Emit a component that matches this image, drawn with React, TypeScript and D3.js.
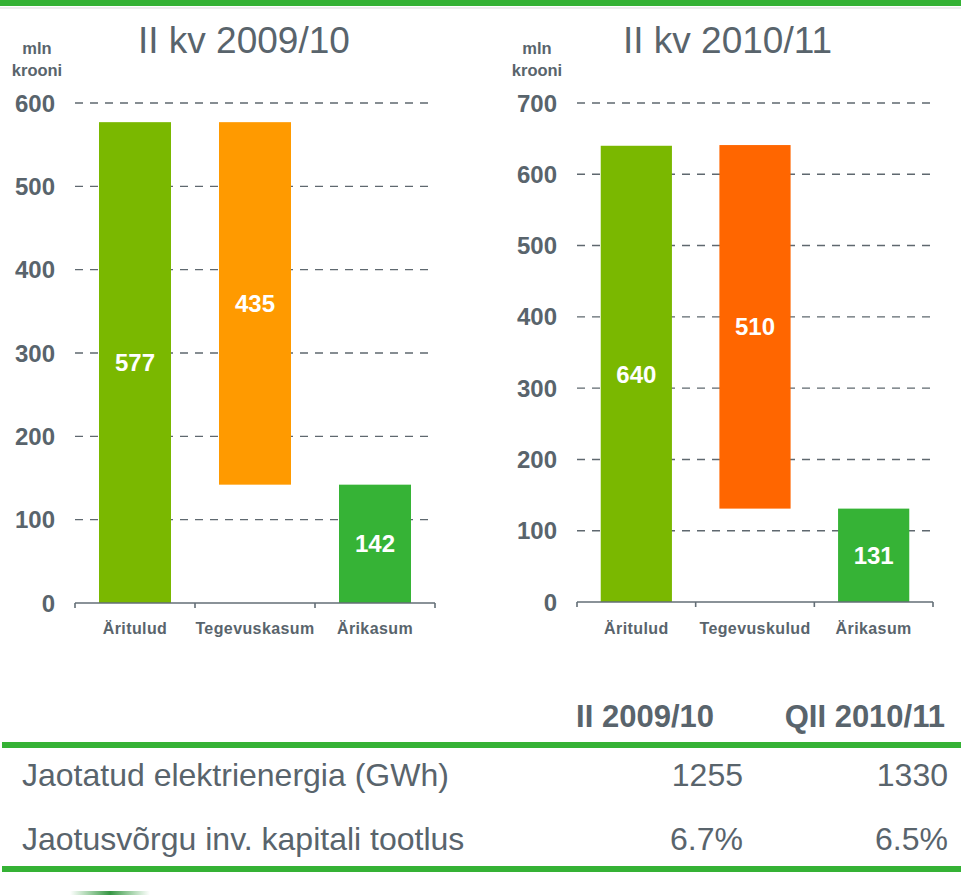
import React from "react";
import { scaleBand, scaleLinear } from "d3";

// waterfall values, mln krooni
const categories1 = ["Äritulud", "Tegevuskasum", "Ärikasum"];
const values1 = [577, 435, 142];
const ticks1 = [0, 100, 200, 300, 400, 500, 600];

const categories2 = ["Äritulud", "Tegevuskulud", "Ärikasum"];
const values2 = [640, 510, 131];
const ticks2 = [0, 100, 200, 300, 400, 500, 600, 700];

const tableHeaders = ["II 2009/10", "QII 2010/11"];
const tableRows = ["Jaotatud elektrienergia (GWh)", "Jaotusvõrgu inv. kapitali tootlus"];
const tableCol1 = ["1255", "6.7%"];
const tableCol2 = ["1330", "6.5%"];

const FONT = "'Liberation Sans', Arial, sans-serif";
const GRAY = "#59646c";
const GREEN_LINE = "#35b235";

function Waterfall({ title, titleX, unitX, categories, values, ticks, x0, x1, y0, y1, colors }) {
  const x = scaleBand().domain(categories).range([x0, x1]);
  const y = scaleLinear().domain([0, ticks[ticks.length - 1]]).range([y0, y1]);
  const bw = x.bandwidth() * 0.6;
  // first bar from zero, middle floats between result and start, last from zero
  const spans = [
    [0, values[0]],
    [values[2], values[2] + values[1]],
    [0, values[2]]
  ];
  const edges = [...categories.map(c => x(c)), x1];

  return (
    <g fontFamily={FONT}>
      <text x={titleX} y={53} fontSize={37} fill={GRAY}>{title}</text>
      <text x={unitX} y={54} fontSize={16.5} fontWeight="bold" fill={GRAY} textAnchor="middle">mln</text>
      <text x={unitX} y={76} fontSize={16.5} fontWeight="bold" fill={GRAY} textAnchor="middle">krooni</text>

      {ticks.map(t => (
        <g key={t}>
          {t > 0 && (
            <line x1={x0} x2={x1} y1={y(t)} y2={y(t)} stroke="#5f686f" strokeWidth={1.4} strokeDasharray="8 7" />
          )}
          <text x={x0 - 20} y={y(t)} dy="0.36em" textAnchor="end" fontSize={24} fontWeight="bold" fill={GRAY}>
            {t}
          </text>
        </g>
      ))}

      {categories.map((c, i) => {
        const [lo, hi] = spans[i];
        const bx = x(c) + (x.bandwidth() - bw) / 2;
        return (
          <g key={c}>
            <rect x={bx} y={y(hi)} width={bw} height={y(lo) - y(hi)} fill={colors[i]} />
            <text
              x={bx + bw / 2}
              y={(y(lo) + y(hi)) / 2}
              dy="0.36em"
              textAnchor="middle"
              fontSize={24}
              fontWeight="bold"
              fill="#fff"
            >
              {values[i]}
            </text>
            <text x={x(c) + x.bandwidth() / 2} y={634} textAnchor="middle" fontSize={16} fontWeight="bold" fill={GRAY} letterSpacing={0.4}>
              {c}
            </text>
          </g>
        );
      })}

      <line x1={x0} x2={x1} y1={y0} y2={y0} stroke="#636e76" strokeWidth={1.6} />
      {edges.map((e, i) => (
        <line key={i} x1={e} x2={e} y1={y0} y2={y0 + 5} stroke="#636e76" strokeWidth={1.6} />
      ))}
    </g>
  );
}

export default function App() {
  const width = 961,
    height = 895;

  return (
    <svg width={width} height={height} style={{ position: "absolute", left: 0, top: 0, background: "#fff" }}>
      <defs>
        <linearGradient id="logo" x1="0" x2="1" y1="0" y2="0">
          <stop offset="0" stopColor="#2f9e3a" stopOpacity={0} />
          <stop offset="0.5" stopColor="#1f8a2e" stopOpacity={0.9} />
          <stop offset="1" stopColor="#2f9e3a" stopOpacity={0} />
        </linearGradient>
      </defs>
      <rect x={0} y={0} width={width} height={6} fill={GREEN_LINE} />
      <rect x={0} y={7.5} width={width} height={1} fill="#dcdcdc" />

      <Waterfall
        title="II kv 2009/10"
        titleX={138}
        unitX={37}
        categories={categories1}
        values={values1}
        ticks={ticks1}
        x0={75}
        x1={435}
        y0={603}
        y1={103}
        colors={["#7ab800", "#ff9a00", "#36b336"]}
      />
      <Waterfall
        title="II kv 2010/11"
        titleX={623}
        unitX={537}
        categories={categories2}
        values={values2}
        ticks={ticks2}
        x0={577}
        x1={933}
        y0={602}
        y1={103}
        colors={["#7ab800", "#ff6600", "#36b336"]}
      />

      <g fontFamily={FONT} fill={GRAY}>
        <text x={714} y={727} textAnchor="end" fontSize={31} fontWeight="bold">{tableHeaders[0]}</text>
        <text x={945} y={727} textAnchor="end" fontSize={31} fontWeight="bold">{tableHeaders[1]}</text>
        <rect x={2} y={742} width={959} height={6} fill={GREEN_LINE} />
        {tableRows.map((r, i) => (
          <g key={r}>
            <text x={22} y={786 + i * 64} fontSize={32}>{r}</text>
            <text x={743} y={786 + i * 64} fontSize={32} textAnchor="end">{tableCol1[i]}</text>
            <text x={948} y={786 + i * 64} fontSize={32} textAnchor="end">{tableCol2[i]}</text>
          </g>
        ))}
        <rect x={2} y={866} width={959} height={6} fill={GREEN_LINE} />
      </g>

      <rect x={70} y={891} width={80} height={4} fill="url(#logo)" />
    </svg>
  );
}
